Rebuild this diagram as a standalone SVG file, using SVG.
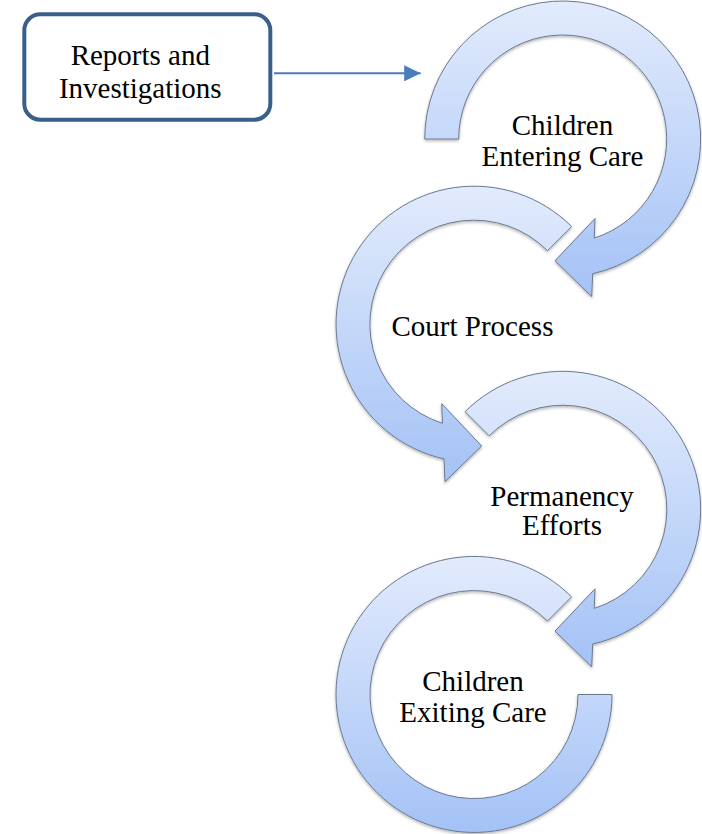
<svg xmlns="http://www.w3.org/2000/svg" width="702" height="834" viewBox="0 0 702 834">
  <style>
    .lbl { font-family: "Liberation Serif", "Times New Roman", serif; font-size: 29px; fill: #000; text-anchor: middle; }
    .arc { fill: url(#arcGrad); stroke: #6b7a90; stroke-width: 1; stroke-linejoin: miter; filter: url(#shadow); }
    .box { fill: #fff; stroke: #3a5f8b; stroke-width: 4; }
    .conn { stroke: #4a7ebb; stroke-width: 2; fill: none; }
  </style>
  <defs>
    <linearGradient id="arcGrad" x1="0" y1="0" x2="0" y2="1">
      <stop offset="0" stop-color="#e2ebfc"/>
      <stop offset="1" stop-color="#a4c2f6"/>
    </linearGradient>
    <filter id="shadow" x="-10%" y="-10%" width="120%" height="120%">
      <feDropShadow dx="0" dy="1.5" stdDeviation="1.5" flood-color="#000" flood-opacity="0.3"/>
    </filter>
    <marker id="arrowHead" markerUnits="userSpaceOnUse" markerWidth="17" markerHeight="16" refX="16.5" refY="8" orient="auto">
      <path d="M0,0 L16.5,8 L0,16 Z" fill="#4a7ebb"/>
    </marker>
  </defs>

  <g id="node-reports">
    <rect class="box" x="24.3" y="14.3" width="246" height="105.4" rx="16" ry="16"/>
    <text class="lbl" x="140.3" y="65">Reports and</text>
    <text class="lbl" x="140.3" y="98">Investigations</text>
  </g>

  <g id="connectors">
    <line class="conn" x1="274" y1="73.3" x2="420.7" y2="73.3" marker-end="url(#arrowHead)"/>
  </g>

  <g id="node-entering">
    <path class="arc" d="M424.7,139 A138,138 0 1 1 592.7,273.7 L591.7,296.5 L555,260.8 L595,218.5 L594.2,238.1 A104,104 0 1 0 458.7,139 Z"/>
    <text class="lbl" x="562.5" y="135">Children</text>
    <text class="lbl" x="562.5" y="166">Entering Care</text>
  </g>

  <g id="node-court">
    <path class="arc" d="M571.6,226.6 A138,138 0 1 0 444,458.9 L445,481.7 L481.7,446 L441.7,403.7 L442.5,423.3 A104,104 0 1 1 547.5,250.7 Z"/>
    <text class="lbl" x="472.5" y="336">Court Process</text>
  </g>

  <g id="node-permanency">
    <path class="arc" d="M465.1,411.7 A138,138 0 1 1 592.7,644 L591.7,666.8 L555,631.1 L595,588.8 L594.2,608.4 A104,104 0 1 0 489.2,435.8 Z"/>
    <text class="lbl" x="562" y="506">Permanency</text>
    <text class="lbl" x="562" y="535">Efforts</text>
  </g>

  <g id="node-exiting">
    <path class="arc" d="M571.6,596.9 A138,138 0 1 0 612,694.5 L578,694.5 A104,104 0 1 1 547.5,621 Z"/>
    <text class="lbl" x="473" y="691">Children</text>
    <text class="lbl" x="473" y="722">Exiting Care</text>
  </g>
</svg>
